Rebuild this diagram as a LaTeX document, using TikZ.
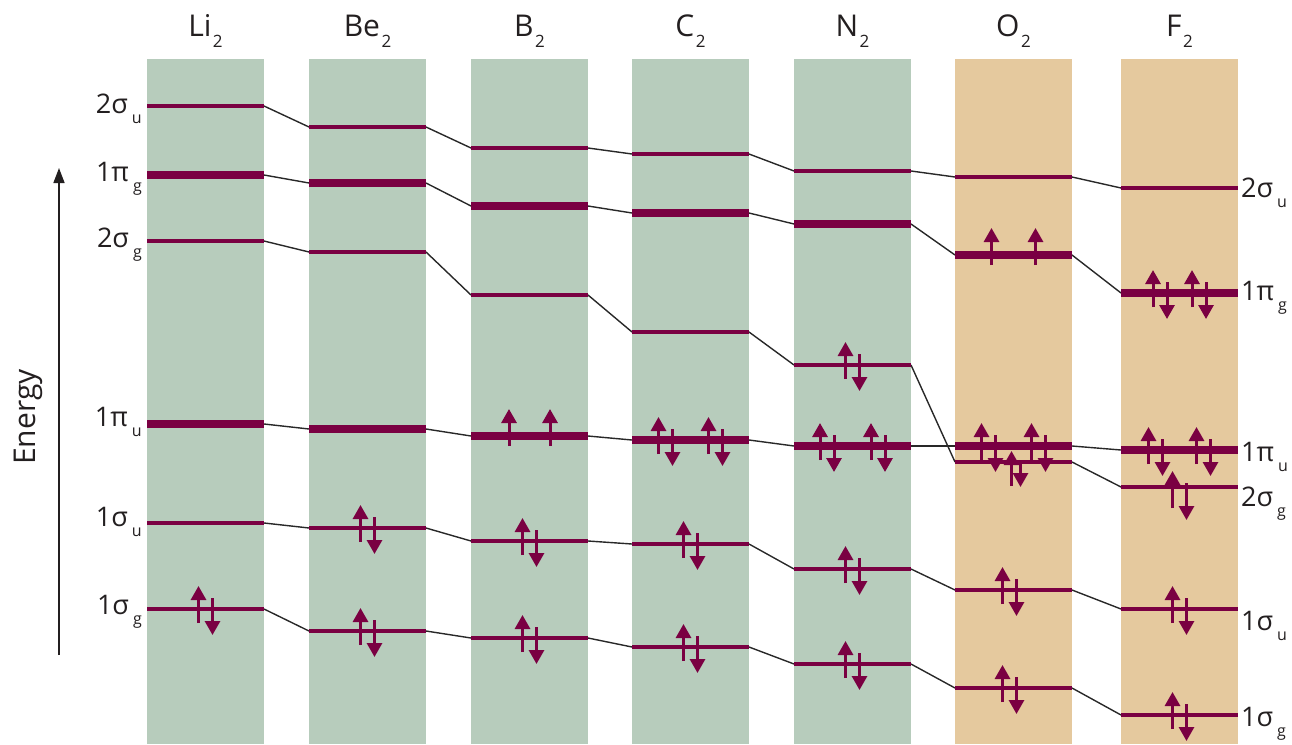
\documentclass[tikz,border=0pt]{standalone}
\usepackage{fontspec}
\setmainfont{Open Sans}
\usetikzlibrary{arrows.meta}

\definecolor{colgreen}{RGB}{183,204,188}
\definecolor{colsand}{RGB}{229,201,158}
\definecolor{orbital}{RGB}{122,0,66}
\definecolor{ink}{RGB}{35,31,32}
\definecolor{linkgray}{RGB}{40,40,40}

% molecule name with lowered subscript
\newcommand{\molname}[2]{#1\kern1.5pt\raisebox{-11pt}{\fontsize{17}{17}\selectfont #2}}
% orbital symbol with lowered subscript
\newcommand{\orbname}[2]{#1\kern4pt\raisebox{-10pt}{\fontsize{16}{16}\selectfont #2}}

\tikzset{
  thinlevel/.style={draw=orbital, line width=4.3pt},
  thicklevel/.style={draw=orbital, line width=7.5pt},
  link/.style={draw=linkgray, line width=1.4pt},
  spin/.style={draw=orbital, line width=3pt, -{Triangle[width=15pt,length=14pt]}},
  title/.style={font=\fontsize{30}{30}\selectfont, text=ink, anchor=base, inner sep=0pt},
  molabel/.style={font=\fontsize{27}{27}\selectfont, text=ink, inner sep=0pt},
  pics/pairspin/.style={code={
    \draw[spin] (-7,14) -- (-7,-23);
    \draw[spin] (7,-11) -- (7,26);
  }},
  pics/upspin/.style={code={\draw[spin] (0,10) -- (0,-27);}},
}

\begin{document}
\begin{tikzpicture}[x=1pt,y=-1pt]
\useasboundingbox (0,0) rectangle (1292,744);

% columns and titles
\foreach \name/\x/\col/\sym in {Li/147/colgreen/Li, Be/309/colgreen/Be, B/471/colgreen/B,
    C/632/colgreen/C, N/794/colgreen/N, O/955/colsand/O, F/1121/colsand/F} {
  \fill[\col] (\x,59) rectangle ++(117,685);
  \node[title] (\name-title) at (\x+58.5,36) {\molname{\sym}{2}};
}

% level end points: 2su, 1pg, 2sg, 1pu, 1su, 1sg
\foreach \name/\x/\a/\b/\c/\d/\e/\f in {
    Li/147/106/175/241/424/523/609,
    Be/309/127/183/252/429/528/631,
    B/471/148/206/295/436/541/638,
    C/632/154/213/332/440/544/647,
    N/794/171/224/365/446/569/664,
    O/955/177/255/462/446/590/688,
    F/1121/188/293/487/450/609/715} {
  \foreach \lv/\y in {su2/\a, pg1/\b, sg2/\c, pu1/\d, su1/\e, sg1/\f} {
    \coordinate (\name-\lv-L) at (\x,\y);
    \coordinate (\name-\lv-M) at (\x+58.5,\y);
    \coordinate (\name-\lv-R) at (\x+117,\y);
  }
}

% correlation lines between neighbouring molecules
\foreach \p/\q in {Li/Be, Be/B, B/C, C/N, N/O, O/F} {
  \foreach \lv in {su2, pg1, sg2, pu1, su1, sg1} {
    \draw[link] (\p-\lv-R) -- (\q-\lv-L);
  }
}

% orbital levels
\foreach \name in {Li, Be, B, C, N, O, F} {
  \foreach \lv in {su2, sg2, su1, sg1} {
    \draw[thinlevel] (\name-\lv-L) -- (\name-\lv-R);
  }
  \foreach \lv in {pg1, pu1} {
    \draw[thicklevel] (\name-\lv-L) -- (\name-\lv-R);
  }
}

% electrons
\pic at (Li-sg1-M) {pairspin};

\pic at (Be-su1-M) {pairspin};
\pic at (Be-sg1-M) {pairspin};

\pic at ([xshift=-20.5pt]B-pu1-M) {upspin};
\pic at ([xshift=20.5pt]B-pu1-M) {upspin};
\pic at (B-su1-M) {pairspin};
\pic at (B-sg1-M) {pairspin};

\pic at ([xshift=-25pt]C-pu1-M) {pairspin};
\pic at ([xshift=25pt]C-pu1-M) {pairspin};
\pic at (C-su1-M) {pairspin};
\pic at (C-sg1-M) {pairspin};

\pic at (N-sg2-M) {pairspin};
\pic at ([xshift=-25.5pt]N-pu1-M) {pairspin};
\pic at ([xshift=25.5pt]N-pu1-M) {pairspin};
\pic at (N-su1-M) {pairspin};
\pic at (N-sg1-M) {pairspin};

\pic at ([xshift=-22pt]O-pg1-M) {upspin};
\pic at ([xshift=22pt]O-pg1-M) {upspin};
\pic at ([xshift=-25pt]O-pu1-M) {pairspin};
\pic at ([xshift=25pt]O-pu1-M) {pairspin};
\draw[spin] ([shift={(-2,24)}]O-sg2-M) -- ++(0,-35);
\draw[spin] ([shift={(7,0)}]O-sg2-M) -- ++(0,25);
\pic at ([xshift=-4pt]O-su1-M) {pairspin};
\pic at ([xshift=-4pt]O-sg1-M) {pairspin};

\pic at ([xshift=-19.5pt]F-pg1-M) {pairspin};
\pic at ([xshift=19.5pt]F-pg1-M) {pairspin};
\pic at ([xshift=-24pt]F-pu1-M) {pairspin};
\pic at ([xshift=24pt]F-pu1-M) {pairspin};
\pic at ([shift={(0,7)}]F-sg2-M) {pairspin};
\pic at (F-su1-M) {pairspin};
\pic at (F-sg1-M) {pairspin};

% energy axis
\coordinate (etail) at (59,655);
\coordinate (etip) at (59,168);
\draw[draw=ink, line width=1.5pt, -{Triangle[width=11pt,length=15pt]}] (etail) -- (etip);
\node[molabel, font=\fontsize{30}{30}\selectfont, rotate=90] (energy) at (28,417) {Energy};

% orbital labels, left side
\node[molabel, anchor=base east] (l-su2) at (142,113.5) {\orbname{2σ}{u}};
\node[molabel, anchor=base east] (l-pg1) at (142,181.5) {\orbname{1π}{g}};
\node[molabel, anchor=base east] (l-sg2) at (142,247.5) {\orbname{2σ}{g}};
\node[molabel, anchor=base east] (l-pu1) at (142,426.5) {\orbname{1π}{u}};
\node[molabel, anchor=base east] (l-su1) at (142,526.5) {\orbname{1σ}{u}};
\node[molabel, anchor=base east] (l-sg1) at (142,614.5) {\orbname{1σ}{g}};

% orbital labels, right side
\node[molabel, anchor=base west] (r-su2) at (1241,197.5) {\orbname{2σ}{u}};
\node[molabel, anchor=base west] (r-pg1) at (1241,300.5) {\orbname{1π}{g}};
\node[molabel, anchor=base west] (r-pu1) at (1241,461) {\orbname{1π}{u}};
\node[molabel, anchor=base west] (r-sg2) at (1241,506) {\orbname{2σ}{g}};
\node[molabel, anchor=base west] (r-su1) at (1241,630.5) {\orbname{1σ}{u}};
\node[molabel, anchor=base west] (r-sg1) at (1241,726.5) {\orbname{1σ}{g}};
\end{tikzpicture}
\end{document}
